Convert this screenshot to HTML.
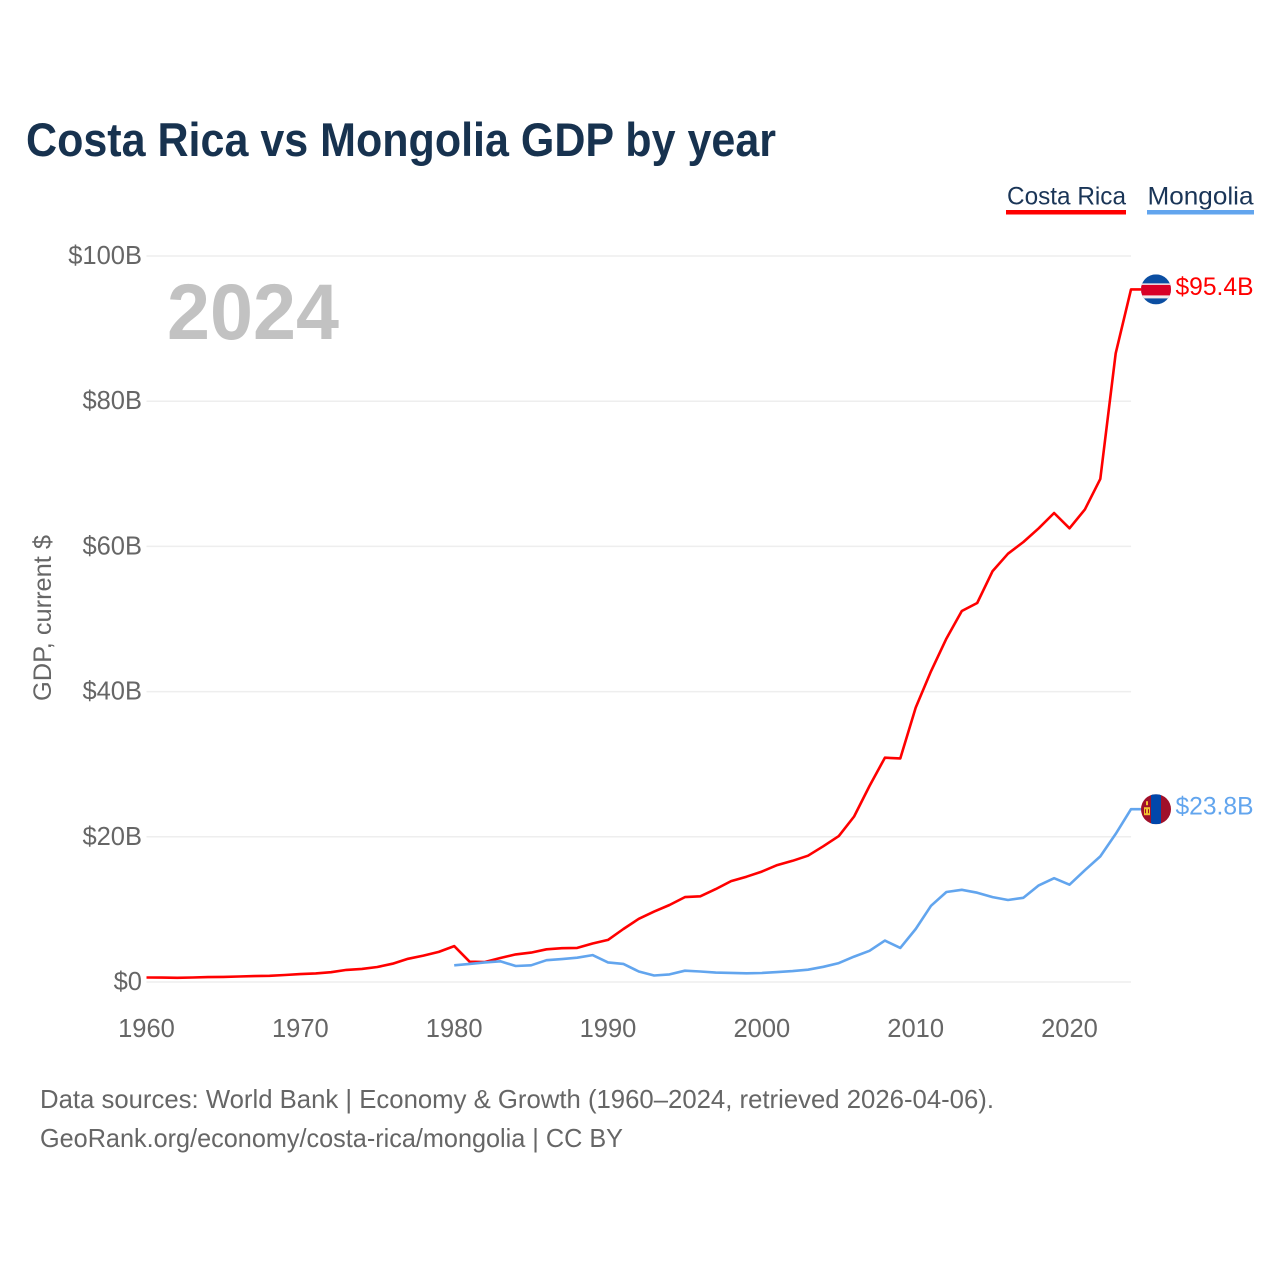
<!DOCTYPE html>
<html lang="en">
<head>
<meta charset="utf-8">
<title>Costa Rica vs Mongolia GDP by year</title>
<style>
html,body{margin:0;padding:0;background:#fff;width:1280px;height:1280px;overflow:hidden}
svg{display:block}
text{font-family:"Liberation Sans",sans-serif}
</style>
</head>
<body>
<svg id="chart" xmlns="http://www.w3.org/2000/svg" width="1280" height="1280" viewBox="0 0 1280 1280">
  <rect x="0" y="0" width="1280" height="1280" fill="#fff"/>
  <text x="26" y="156" font-size="47" font-weight="700" fill="#17324f" textLength="750" lengthAdjust="spacingAndGlyphs">Costa Rica vs Mongolia GDP by year</text>

  <g>
    <text x="1007" y="204.5" font-size="25" fill="#1a3557" textLength="119" lengthAdjust="spacingAndGlyphs">Costa Rica</text>
    <rect x="1006" y="210" width="120" height="4.5" fill="#ff0000"/>
  </g>
  <g>
    <text x="1147.5" y="204.5" font-size="25" fill="#1a3557" textLength="106" lengthAdjust="spacingAndGlyphs">Mongolia</text>
    <rect x="1147" y="210" width="107" height="4.5" fill="#62a5ee"/>
  </g>

  <g id="grid"></g>
  <g id="yticks"></g>
  <g id="xticks"></g>

  <text transform="translate(51 701) rotate(-90)" font-size="25" fill="#666" textLength="166" lengthAdjust="spacingAndGlyphs">GDP, current $</text>
  <text x="167" y="339" font-size="79" font-weight="700" fill="#c2c2c2" textLength="172" lengthAdjust="spacingAndGlyphs">2024</text>

  <polyline id="line-cr" fill="none" stroke="#ff0000" stroke-width="2.6" stroke-linejoin="round"/>
  <polyline id="line-mn" fill="none" stroke="#62a5ee" stroke-width="2.6" stroke-linejoin="round"/>

  <defs>
    <clipPath id="flag-clip"><circle cx="0" cy="0" r="15"/></clipPath>
  </defs>
  <g id="flag-cr">
    <g clip-path="url(#flag-clip)">
      <rect x="-15" y="-15" width="30" height="30" fill="#0b4ea2"/>
      <rect x="-15" y="-6" width="30" height="15" fill="#f3e9ea"/>
      <rect x="-15" y="-4.5" width="30" height="10.5" fill="#d80027"/>
    </g>
  </g>
  <g id="flag-mn">
    <g clip-path="url(#flag-clip)">
      <rect x="-15" y="-15" width="30" height="30" fill="#a0102a"/>
      <rect x="-5" y="-15" width="10" height="30" fill="#0047ab"/>
      <rect x="-12" y="-2" width="6" height="8" fill="#f2c230"/>
      <rect x="-10" y="-8" width="2" height="4" fill="#f2c230"/>
      <rect x="-11" y="0" width="1" height="4" fill="#a0102a"/>
      <rect x="-8" y="0" width="1" height="4" fill="#a0102a"/>
    </g>
  </g>
  <text id="value-cr" x="1175.5" font-size="25" fill="#ff0000" textLength="78" lengthAdjust="spacingAndGlyphs"></text>
  <text id="value-mn" x="1175.5" font-size="25" fill="#62a5ee" textLength="78" lengthAdjust="spacingAndGlyphs"></text>

  <text x="40" y="1108" font-size="26" fill="#666" textLength="954" lengthAdjust="spacingAndGlyphs">Data sources: World Bank | Economy &amp; Growth (1960–2024, retrieved 2026-04-06).</text>
  <text x="40" y="1147" font-size="26" fill="#666" textLength="583" lengthAdjust="spacingAndGlyphs">GeoRank.org/economy/costa-rica/mongolia | CC BY</text>
</svg>
<script>
const costaRicaStartYear = 1960;
const costaRicaValues = [0.62,0.6,0.58,0.62,0.67,0.7,0.76,0.81,0.86,0.96,1.09,1.18,1.35,1.66,1.8,2.07,2.52,3.19,3.63,4.15,4.94,2.8,2.75,3.3,3.8,4.05,4.5,4.65,4.7,5.3,5.8,7.3,8.7,9.7,10.6,11.7,11.8,12.8,13.9,14.5,15.2,16.1,16.7,17.4,18.7,20.1,22.8,27.0,30.9,30.8,37.8,42.8,47.3,51.1,52.2,56.6,59.0,60.6,62.5,64.6,62.5,65.1,69.3,86.6,95.4];
const mongoliaStartYear = 1980;
const mongoliaValues = [2.3,2.5,2.7,2.85,2.2,2.3,3.0,3.15,3.35,3.7,2.7,2.5,1.45,0.9,1.05,1.55,1.45,1.3,1.25,1.2,1.24,1.37,1.5,1.7,2.1,2.6,3.5,4.3,5.7,4.7,7.3,10.5,12.4,12.7,12.3,11.7,11.3,11.6,13.3,14.3,13.4,15.4,17.3,20.4,23.8];
const yTickValues = [0,20,40,60,80,100];
const yTickLabels = ["$0","$20B","$40B","$60B","$80B","$100B"];
const xTickYears = [1960,1970,1980,1990,2000,2010,2020];
const endLabels = ["$95.4B","$23.8B"];

const SVGNS = "http://www.w3.org/2000/svg";
function xScale(year){ return 146.5 + (year - 1960) * (1069.5 - 146.5) / 60; }
function yScale(v){ return 982 - v * 7.26; }

const grid = document.getElementById("grid");
const yticks = document.getElementById("yticks");
const xticks = document.getElementById("xticks");

yTickValues.forEach(function(v, i){
  const line = document.createElementNS(SVGNS, "line");
  
  
  line.setAttribute("x1", xScale(1960));
  line.setAttribute("x2", xScale(2024));
  line.setAttribute("y1", yScale(v));
  line.setAttribute("y2", yScale(v));
  line.setAttribute("stroke", "#eeeeee");
  line.setAttribute("stroke-width", "1.5");
  grid.appendChild(line);

  const t = document.createElementNS(SVGNS, "text");
  
  
  t.setAttribute("x", 142);
  t.setAttribute("y", yScale(v) + 8);
  t.setAttribute("text-anchor", "end");
  t.setAttribute("font-size", "25.5");
  t.setAttribute("fill", "#666");
  t.textContent = yTickLabels[i];
  yticks.appendChild(t);
});

xTickYears.forEach(function(year){
  const t = document.createElementNS(SVGNS, "text");
  
  
  t.setAttribute("x", xScale(year));
  t.setAttribute("y", 1037);
  t.setAttribute("text-anchor", "middle");
  t.setAttribute("font-size", "25.5");
  t.setAttribute("fill", "#666");
  t.textContent = year;
  xticks.appendChild(t);
});

function linePoints(startYear, values){
  const pts = values.map(function(v, i){
    return xScale(startYear + i).toFixed(1) + "," + yScale(v).toFixed(1);
  });
  pts.push("1141," + yScale(values[values.length - 1]).toFixed(1));
  return pts.join(" ");
}
document.getElementById("line-cr").setAttribute("points", linePoints(costaRicaStartYear, costaRicaValues));
document.getElementById("line-mn").setAttribute("points", linePoints(mongoliaStartYear, mongoliaValues));

const crEnd = yScale(costaRicaValues[costaRicaValues.length - 1]);
const mnEnd = yScale(mongoliaValues[mongoliaValues.length - 1]);
document.getElementById("flag-cr").setAttribute("transform", "translate(1156 " + crEnd + ")");
document.getElementById("flag-mn").setAttribute("transform", "translate(1156 " + mnEnd + ")");
const valueCr = document.getElementById("value-cr");
valueCr.setAttribute("y", crEnd + 5.5);
valueCr.textContent = endLabels[0];
const valueMn = document.getElementById("value-mn");
valueMn.setAttribute("y", mnEnd + 5.5);
valueMn.textContent = endLabels[1];
</script>
</body>
</html>
